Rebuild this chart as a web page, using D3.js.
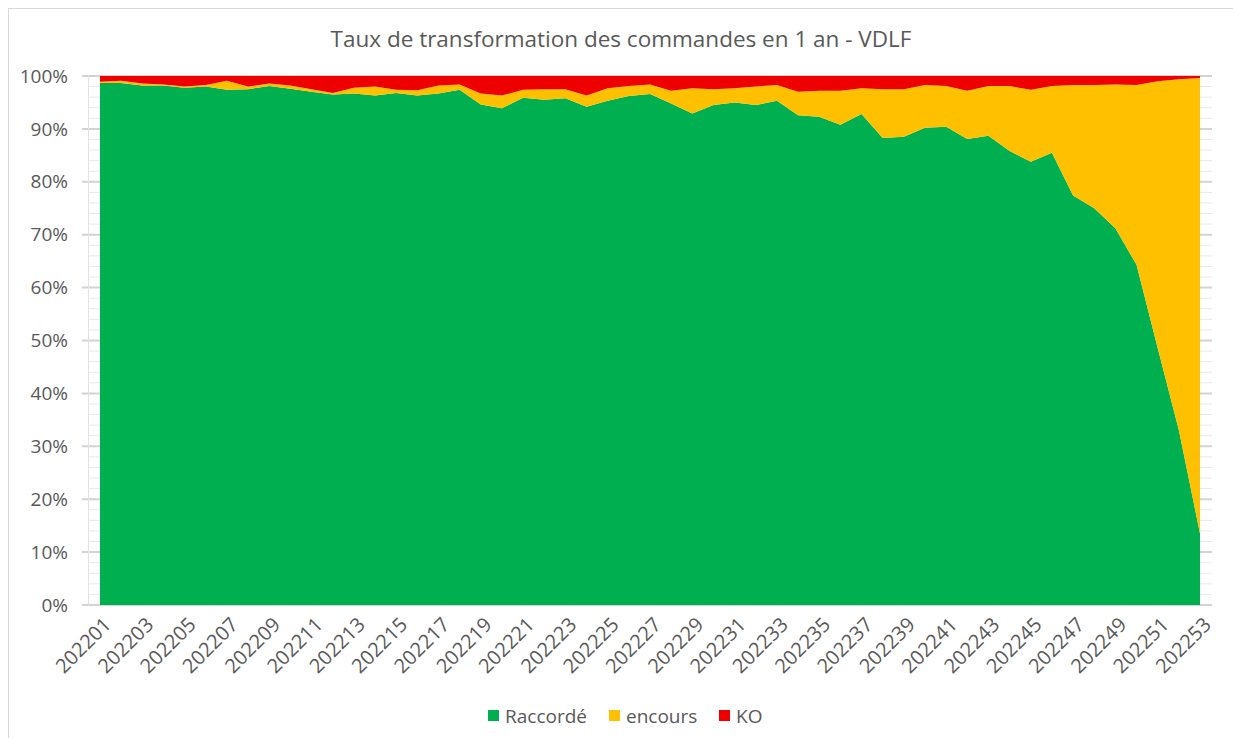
<!DOCTYPE html>
<html>
<head>
<meta charset="utf-8">
<script src="https://cdn.jsdelivr.net/npm/d3@7"></script>
<style>
    body { margin: 0; background: #fff; }
    svg { display: block; }
    text { font-family: "Open Sans", sans-serif; fill: #595959; }
</style>
</head>
<body>
<div id="chart"></div>
<script>
// weeks 202201 .. 202253
const weeks = ["202201", "202202", "202203", "202204", "202205", "202206", "202207", "202208", "202209", "202210",
    "202211", "202212", "202213", "202214", "202215", "202216", "202217", "202218", "202219", "202220",
    "202221", "202222", "202223", "202224", "202225", "202226", "202227", "202228", "202229", "202230",
    "202231", "202232", "202233", "202234", "202235", "202236", "202237", "202238", "202239", "202240",
    "202241", "202242", "202243", "202244", "202245", "202246", "202247", "202248", "202249", "202250",
    "202251", "202252", "202253"];

// share of orders, in %
const raccorde = [98.7, 98.7, 98.2, 98.2, 97.8, 98.0, 97.4, 97.5, 98.1, 97.6,
    97.0, 96.5, 96.7, 96.3, 96.8, 96.3, 96.7, 97.4, 94.6, 93.9,
    95.9, 95.5, 95.8, 94.2, 95.3, 96.2, 96.6, 94.8, 92.9, 94.5,
    95.0, 94.5, 95.3, 92.6, 92.3, 90.8, 92.8, 88.3, 88.5, 90.2,
    90.4, 88.1, 88.7, 85.8, 83.8, 85.5, 77.4, 75.0, 71.2, 64.3,
    48.6, 33.1, 13.5];
const encours = [0.2, 0.4, 0.4, 0.2, 0.2, 0.3, 1.7, 0.5, 0.5, 0.6,
    0.5, 0.3, 1.1, 1.7, 0.6, 1.0, 1.5, 1.0, 2.1, 2.4,
    1.5, 2.0, 1.7, 2.1, 2.4, 1.9, 1.8, 2.4, 4.8, 3.0,
    2.7, 3.5, 3.0, 4.4, 4.9, 6.4, 4.9, 9.2, 9.0, 8.1,
    7.7, 9.1, 9.4, 12.3, 13.6, 12.6, 20.9, 23.3, 27.2, 34.0,
    50.4, 66.3, 86.1];
const ko = [1.1, 0.9, 1.4, 1.6, 2.0, 1.7, 0.9, 2.0, 1.4, 1.8,
    2.5, 3.2, 2.2, 2.0, 2.6, 2.7, 1.8, 1.6, 3.3, 3.7,
    2.6, 2.5, 2.5, 3.7, 2.3, 1.9, 1.6, 2.8, 2.3, 2.5,
    2.3, 2.0, 1.7, 3.0, 2.8, 2.8, 2.3, 2.5, 2.5, 1.7,
    1.9, 2.8, 1.9, 1.9, 2.6, 1.9, 1.7, 1.7, 1.6, 1.7,
    1.0, 0.6, 0.4];

const seriesNames = ["Raccordé", "encours", "KO"];
const seriesColors = ["#00b050", "#ffc000", "#ee0000"];
const yTicks = [0, 10, 20, 30, 40, 50, 60, 70, 80, 90, 100];
const title = "Taux de transformation des commandes en 1 an - VDLF";

var width = 1233, height = 738;
var margin = { top: 76, right: 33, bottom: 133, left: 100 };
var plotW = width - margin.left - margin.right,
    plotH = height - margin.top - margin.bottom;

var table = weeks.map((w, i) => ({ week: w, "Raccordé": raccorde[i], "encours": encours[i], "KO": ko[i] }));

var svg = d3.select("#chart")
    .append("svg")
    .attr("width", width)
    .attr("height", height);

// outer chart border (only top/left visible in the crop)
svg.append("rect")
    .attr("x", 8.5).attr("y", 8.5)
    .attr("width", width + 20).attr("height", height + 20)
    .attr("fill", "none")
    .attr("stroke", "#d9d9d9");

svg.append("text")
    .attr("x", 621)
    .attr("y", 47)
    .attr("text-anchor", "middle")
    .style("font-size", "22.5px")
    .text(title);

var x = d3.scaleLinear()
    .domain([0, weeks.length - 1])
    .range([margin.left, margin.left + plotW]);

var y = d3.scaleLinear()
    .domain([0, 100])
    .range([margin.top + plotH, margin.top]);

// minor + major gridlines
var minor = d3.range(0, 101, 2).filter(v => v % 10 != 0);
svg.append("g")
    .selectAll("line")
    .data(minor)
    .enter()
    .append("line")
    .attr("x1", 88).attr("x2", 1212)
    .attr("y1", d => y(d)).attr("y2", d => y(d))
    .attr("stroke", "#e8e8e8")
    .attr("stroke-width", 1);

svg.append("g")
    .selectAll("line")
    .data(yTicks)
    .enter()
    .append("line")
    .attr("x1", 82).attr("x2", 1212)
    .attr("y1", d => y(d)).attr("y2", d => y(d))
    .attr("stroke", "#d3d3d3")
    .attr("stroke-width", 2);

svg.append("line")
    .attr("x1", 88.5).attr("x2", 88.5)
    .attr("y1", y(100)).attr("y2", y(0))
    .attr("stroke", "#e3e3e3");

// stacked areas
var stack = d3.stack().keys(seriesNames);
var layers = stack(table);

var area = d3.area()
    .x((d, i) => x(i))
    .y0(d => y(d[0]))
    .y1(d => y(d[1]));

svg.append("g")
    .selectAll("path")
    .data(layers)
    .enter()
    .append("path")
    .attr("d", area)
    .attr("fill", (d, i) => seriesColors[i]);

// y axis labels
svg.append("g")
    .selectAll("text")
    .data(yTicks)
    .enter()
    .append("text")
    .attr("x", 68)
    .attr("y", d => y(d))
    .attr("dy", "0.35em")
    .attr("text-anchor", "end")
    .style("font-size", "19px")
    .text(d => d + "%");

// x axis labels, every other week
var xAxis = d3.axisBottom(x)
    .tickValues(d3.range(0, weeks.length, 2))
    .tickFormat(i => weeks[i])
    .tickSize(0)
    .tickPadding(0);

var gx = svg.append("g")
    .attr("transform", "translate(0," + y(0) + ")")
    .call(xAxis);
gx.select(".domain").remove();
gx.selectAll("text")
    .attr("text-anchor", "end")
    .attr("transform", "translate(7,16) rotate(-45)")
    .attr("dy", "0.35em")
    .style("font-size", "20px")
    .style("fill", "#595959");

// legend
var legendX = [488, 609, 719];
var lg = svg.append("g")
    .selectAll("g")
    .data(seriesNames)
    .enter()
    .append("g")
    .attr("transform", (d, i) => "translate(" + legendX[i] + ",710)");
lg.append("rect")
    .attr("width", 11).attr("height", 11)
    .attr("fill", (d, i) => seriesColors[i]);
lg.append("text")
    .attr("x", 17)
    .attr("y", 6)
    .attr("dy", "0.35em")
    .style("font-size", "19px")
    .text(d => d);
</script>
</body>
</html>
